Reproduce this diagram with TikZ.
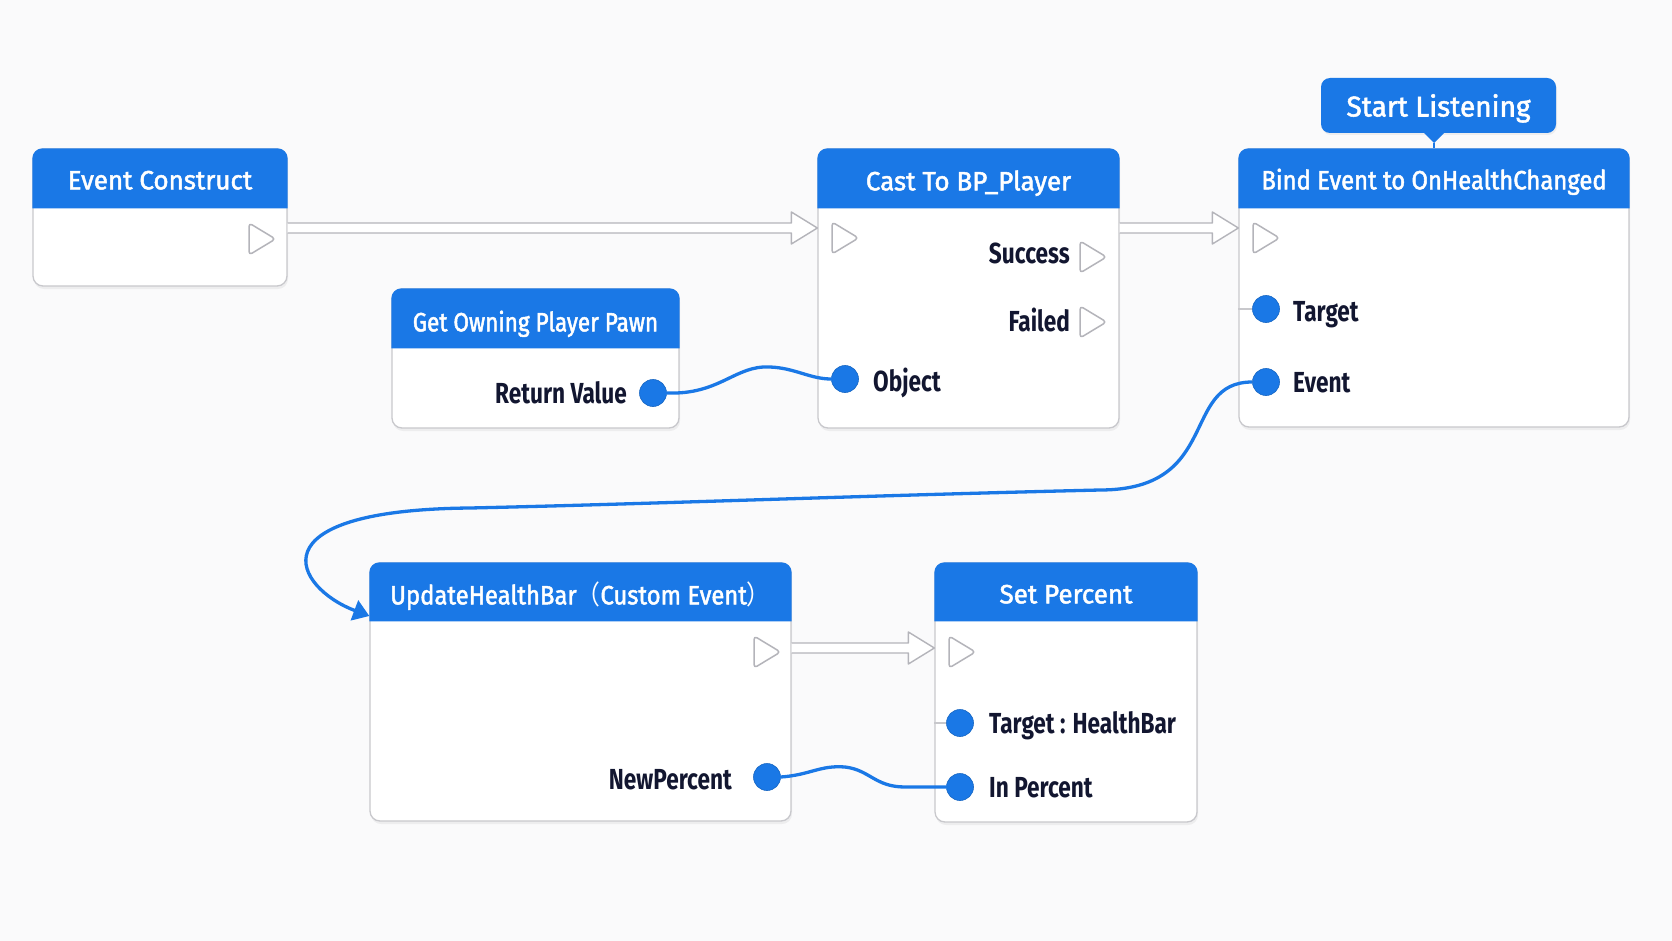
\documentclass[tikz,border=0pt]{standalone}
\usepackage{fontspec}
\setmainfont{Fira Sans}
\newfontfamily\hdrA[FakeBold=1.8,FakeStretch=0.98]{Fira Sans}
\newfontfamily\hdrB[FakeBold=1.8,FakeStretch=0.9]{Fira Sans}
\newfontfamily\hdrC[FakeBold=1.8,FakeStretch=0.85]{Fira Sans}
\newfontfamily\bodyfont[FakeStretch=0.78]{Fira Sans}
\newfontfamily\cjk[FakeStretch=0.9]{Noto Sans CJK SC}
\usetikzlibrary{calc,shadows,arrows.meta}
\definecolor{bpblue}{RGB}{26,120,230}
\definecolor{bgc}{RGB}{250,250,251}
\definecolor{navy}{RGB}{18,22,48}
\definecolor{bordergray}{RGB}{200,200,204}
\definecolor{execgray}{RGB}{180,180,186}
\tikzset{
 bpnode/.style={rectangle, rounded corners=10pt, draw=bordergray, line width=1.3pt, fill=white,
   drop shadow={shadow xshift=1pt, shadow yshift=-3pt, opacity=0.10}},
 hdr/.style={anchor=base, text=white, font=\hdrA\fontsize{26.5}{30}\selectfont, inner sep=0pt},
 hdrB/.style={hdr, font=\hdrB\fontsize{26.5}{30}\selectfont},
 hdrC/.style={hdr, font=\hdrC\fontsize{26.5}{30}\selectfont},
 lblL/.style={anchor=base west, text=navy, font=\bodyfont\bfseries\fontsize{29}{32}\selectfont, inner sep=0pt},
 lblR/.style={lblL, anchor=base east},
 datapin/.style={circle, fill=bpblue, draw=bpblue!85!black, line width=0.6pt, minimum size=27pt, inner sep=0pt},
 execshape/.style={draw=execgray, fill=white, line width=1.5pt, rounded corners=3.5pt, line join=round},
 execlinkstyle/.style={draw=execgray, fill=white, line width=1.4pt, line join=round},
 wire/.style={draw=bpblue, line width=3.3pt, line cap=round},
 stub/.style={draw=bordergray, line width=1.3pt},
 hdrfill/.style={fill=bpblue},
 calloutbox/.style={rectangle, rounded corners=9pt, fill=bpblue, minimum width=235pt, minimum height=55pt, inner sep=0pt,
   drop shadow={shadow xshift=1pt, shadow yshift=-2pt, opacity=0.10}},
 callouttext/.style={anchor=base, text=white, font=\hdrA\fontsize{28.6}{32}\selectfont, inner sep=0pt},
}
\newcommand\drawexec[1]{\draw[execshape] ($(#1)+(-13,-16)$) -- ($(#1)+(13.5,0)$) -- ($(#1)+(-13,16)$) -- cycle;}
\newcommand\execlink[2]{\draw[execlinkstyle] ($(#1)+(0,-5)$) -- ($(#2)+(-26,-5)$) -- ($(#2)+(-26,-16)$) -- (#2) -- ($(#2)+(-26,16)$) -- ($(#2)+(-26,5)$) -- ($(#1)+(0,5)$);}
\newcommand\header[2]{\fill[hdrfill] ($(#1.north west)+(0,#2)$) [rounded corners=10pt] -- (#1.north west) -- (#1.north east) [sharp corners] -- ($(#1.north east)+(0,#2)$) -- cycle;}
\begin{document}
\begin{tikzpicture}[x=1pt,y=-1pt]
\fill[bgc] (0,0) rectangle (1672,941);
\useasboundingbox (0,0) rectangle (1672,941);

% boxes
\node[bpnode, minimum width=254pt, minimum height=137pt] (ec) at (160,217.5) {};
\node[bpnode, minimum width=287pt, minimum height=139pt] (gopp) at (535.5,358.5) {};
\node[bpnode, minimum width=301pt, minimum height=279pt] (cast) at (968.5,288.5) {};
\node[bpnode, minimum width=390pt, minimum height=278pt] (bind) at (1434,288) {};
\node[bpnode, minimum width=421pt, minimum height=258pt] (uhb) at (580.5,692) {};
\node[bpnode, minimum width=262pt, minimum height=259pt] (setp) at (1066,692.5) {};

% headers
\header{ec}{60}
\header{gopp}{60}
\header{cast}{60}
\header{bind}{60}
\header{uhb}{59}
\header{setp}{59}
\node[hdr] (ec-t) at ($(ec.north)+(0,41)$) {Event Construct};
\node[hdrC] (gopp-t) at ($(gopp.north)+(0,43)$) {Get Owning Player Pawn};
\node[hdr] (cast-t) at ($(cast.north)+(0,42)$) {Cast To BP\_Player};
\node[hdrB] (bind-t) at ($(bind.north)+(0,41)$) {Bind Event to OnHealthChanged};
\node[hdrB] (uhb-t) at ($(uhb.north)+(0,42)$) {UpdateHealthBar{\cjk （}Custom Event{\cjk ）}};
\node[hdr] (setp-t) at ($(setp.north)+(0,41)$) {Set Percent};

% callout
\node[calloutbox] (sl) at (1438.5,105.5) {};
\node[callouttext] (sl-t) at ($(sl.center)+(0,11)$) {Start Listening};
\coordinate (sltip) at (bind.north |- 0,143);
\fill[bpblue] ($(sltip)+(-11,-11)$) -- (sltip) -- ($(sltip)+(11,-11)$) -- cycle;
\draw[bpblue, line width=1.5pt] (sltip) -- (bind.north);

% exec pins
\coordinate (ec-out) at (262,239);
\coordinate (cast-in) at (845,238);
\coordinate (cast-succ) at (1093,257);
\coordinate (cast-fail) at (1093,322);
\coordinate (bind-in) at (1266,238);
\coordinate (uhb-out) at (767,652);
\coordinate (setp-in) at (962,652);
\drawexec{ec-out}
\drawexec{cast-in}
\drawexec{cast-succ}
\drawexec{cast-fail}
\drawexec{bind-in}
\drawexec{uhb-out}
\drawexec{setp-in}

% data pins
\node[datapin] (gopp-rv) at (653,393) {};
\node[datapin] (cast-obj) at (845,379) {};
\node[datapin] (bind-tgt) at (1266,309) {};
\node[datapin] (bind-ev) at (1266,382) {};
\node[datapin] (uhb-np) at (767,777) {};
\node[datapin] (setp-tgt) at (960,723) {};
\node[datapin] (setp-ip) at (960,787) {};

% stubs
\draw[stub] (bind.west |- bind-tgt) -- (bind-tgt.west);
\draw[stub] (setp.west |- setp-tgt) -- (setp-tgt.west);

% labels
\node[lblR] (l-rv) at (627,403) {Return Value};
\node[lblR] (l-succ) at (1070,264) {Success};
\node[lblR] (l-fail) at (1070,331) {Failed};
\node[lblL] (l-obj) at (873,391) {Object};
\node[lblL] (l-tgt) at (1293,321) {Target};
\node[lblL] (l-ev) at (1293,392) {Event};
\node[lblR] (l-np) at (732,789) {NewPercent};
\node[lblL] (l-st) at (989,733) {Target : HealthBar};
\node[lblL] (l-ip) at (989,797) {In Percent};

% exec links
\coordinate (a1s) at (ec.east |- 0,228);
\coordinate (a1e) at (cast.west |- 0,228);
\coordinate (a2s) at (cast.east |- 0,228);
\coordinate (a2e) at (bind.west |- 0,228);
\coordinate (a3s) at (uhb.east |- 0,648);
\coordinate (a3e) at (setp.west |- 0,648);
\execlink{a1s}{a1e}
\execlink{a2s}{a2e}
\execlink{a3s}{a3e}

% wires
\draw[wire] (gopp-rv.east) .. controls (720,395) and (735,365) .. (770,367) .. controls (795,368) and (810,379) .. (cast-obj.west);
\draw[wire] (uhb-np.east) .. controls (810,775) and (820,765) .. (845,767) .. controls (870,770) and (875,787) .. (905,787) -- (setp-ip.west);
\coordinate (uhbin) at (uhb.west |- 0,616);
\draw[wire, line cap=butt, -{Triangle[length=16pt,width=21pt]}] (bind-ev.west) .. controls (1180,382) and (1222,490) .. (1100,490)
  .. controls (850,496) and (650,504) .. (470,508) .. controls (250,510) and (295,588) .. (uhbin);
\end{tikzpicture}
\end{document}
